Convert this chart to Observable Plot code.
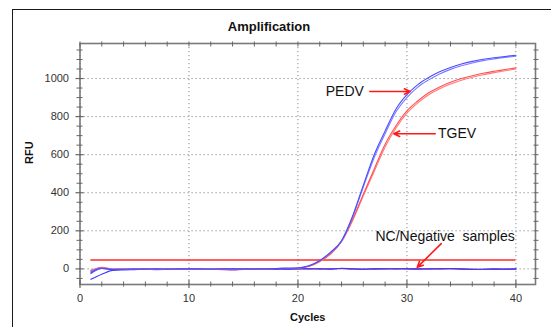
<!DOCTYPE html>
<html>
<head>
<meta charset="utf-8">
<script src="https://cdn.jsdelivr.net/npm/d3@7"></script>
<script src="https://cdn.jsdelivr.net/npm/@observablehq/plot@0.6"></script>
<style>
  html, body { margin: 0; padding: 0; width: 551px; height: 327px; overflow: hidden; background: #fff; }
  #border { position: absolute; left: 12px; top: 9px; width: 700px; height: 500px;
            border-left: 1.5px solid #1a1a1a; border-top: 1.5px solid #1a1a1a; }
  #chart { position: absolute; left: 0; top: 0; }
  svg { font-family: "Liberation Sans", Arial, sans-serif; overflow: visible; }
</style>
</head>
<body>
<div id="border"></div>
<div id="chart"></div>
<script>
const title = "Amplification";
const xLabel = "Cycles";
const yLabel = "RFU";

const cycles = [1,2,3,4,5,6,7,8,9,10,11,12,13,14,15,16,17,18,19,20,21,22,23,24,25,26,27,28,29,30,31,32,33,34,35,36,37,38,39,40];

// PEDV replicates (blue)
const pedvA = [-20,3,-3,-2,-1,-1,0,-1,0,0,0,-1,0,0,1,1,1,2,3,5,16,44,88,148,275,440,600,725,840,915,968,1005,1035,1058,1076,1090,1101,1109,1116,1122];
const pedvB = [-12,4,-2,-2,-1,0,0,-1,0,0,0,-1,0,0,1,1,1,2,3,5,15,42,86,146,270,430,585,710,825,900,955,993,1024,1048,1067,1082,1094,1103,1111,1117];
// TGEV replicates (red)
const tgevA = [-10,5,-2,-1,-1,0,0,-1,0,0,0,-1,0,0,1,1,1,2,3,5,14,40,80,145,258,392,525,655,752,830,882,925,955,980,1000,1015,1028,1038,1047,1056];
const tgevB = [-6,6,-1,-1,0,0,0,-1,0,0,0,-1,0,0,1,1,1,2,2,4,13,38,78,143,252,384,512,640,740,818,872,915,946,971,991,1007,1020,1031,1041,1050];
// NC / negative samples
const neg1 = [-55,-28,-8,-5,-4,-3,-4,-3,-2,-3,-2,-3,-2,-4,-2,-1,-2,-1,0,0,1,0,-1,3,0,-2,0,1,0,1,-1,0,1,2,0,-3,-2,0,-2,0];
const neg2 = [-25,2,-4,-3,-2,-2,-1,-2,-2,-1,-2,-3,-1,-2,-1,-2,-1,0,-1,1,0,1,0,2,1,-1,0,0,1,0,0,1,0,1,-1,-2,-2,-1,-1,-1];
const neg3 = [-15,8,-1,-3,-2,-1,-2,-2,-1,-2,-1,-2,-4,-5,-3,-2,-1,-1,0,0,0,-1,0,1,-2,-2,-1,0,0,0,0,-1,0,0,-1,-1,-3,-2,-1,0];

const threshold = 47;
const thresholdFrom = 1, thresholdTo = 40;

const xMajor = [0,10,20,30,40];
const xMinor = [2,4,6,8,12,14,16,18,22,24,26,28,32,34,36,38];
const yMajor = [0,200,400,600,800,1000];
const yMinor = [-50,50,100,150,250,300,350,450,500,550,650,700,750,850,900,950,1050,1100,1150];

const series = [
  {name: "neg3", values: neg3, color: "#ff6060"},
  {name: "neg2", values: neg2, color: "#6a3ae8"},
  {name: "neg1", values: neg1, color: "#3c3cff"},
  {name: "tgevB", values: tgevB, color: "#ff7a7a"},
  {name: "tgevA", values: tgevA, color: "#ff5050"},
  {name: "pedvB", values: pedvB, color: "#7a7aff"},
  {name: "pedvA", values: pedvA, color: "#4c4cff"}
];

// annotations: label text, position and arrow (cycle / RFU)
const labels = [
  {text: "PEDV", x: 24.3, y: 932},
  {text: "TGEV", x: 34.6, y: 710},
  {text: "NC/Negative  samples", x: 33.5, y: 171}
];
const arrows = [
  {x1: 26.6, y1: 932, x2: 30.3, y2: 932},
  {x1: 32.6, y1: 710, x2: 28.8, y2: 710},
  {x1: 33.15, y1: 133, x2: 30.95, y2: 8}
];

const rows = series.flatMap(s => s.values.map((v, i) => ({series: s.name, cycle: cycles[i], rfu: v, color: s.color})));

const tickColor = "#666";
const chart = Plot.plot({
  width: 551,
  height: 327,
  marginLeft: 79.5,
  marginRight: 16,
  marginTop: 43,
  marginBottom: 43,
  x: {domain: [0, 41.8], label: null},
  y: {domain: [-82, 1184], label: null},
  style: {fontFamily: "Liberation Sans, Arial, sans-serif", background: "transparent"},
  marks: [
    Plot.gridX(xMajor, {stroke: "#8a8a8a", strokeOpacity: 1, strokeDasharray: "1.2,2.8", strokeWidth: 1}),
    Plot.gridY(yMajor, {stroke: "#8a8a8a", strokeOpacity: 1, strokeDasharray: "1.2,2.8", strokeWidth: 1}),
    Plot.ruleY([threshold], {x1: thresholdFrom, x2: thresholdTo, stroke: "#ff2a2a", strokeWidth: 1.6}),
    Plot.line(rows, {x: "cycle", y: "rfu", z: "series", stroke: "color", strokeWidth: 1.1, curve: "monotone-x"}),
    Plot.frame({stroke: "#7a7a7a", strokeWidth: 1.6}),
    // left ticks (crossing)
    Plot.axisY(yMajor, {anchor: "left", tickSize: 8, dx: 4, fill: "none", stroke: tickColor, strokeWidth: 1.2}),
    Plot.axisY(yMinor, {anchor: "left", tickSize: 6, dx: 3, fill: "none", stroke: tickColor, strokeWidth: 1}),
    Plot.axisY(yMajor, {anchor: "left", tickSize: 0, tickPadding: 11, fontSize: 11, fill: "#333", tickFormat: d => String(d)}),
    // right ticks
    Plot.axisY(yMajor.concat(yMinor), {anchor: "right", tickSize: 5, dx: -2.5, fill: "none", stroke: tickColor, strokeWidth: 1}),
    // bottom ticks
    Plot.axisX(xMajor, {anchor: "bottom", tickSize: 8, dy: -4, fill: "none", stroke: tickColor, strokeWidth: 1.2}),
    Plot.axisX(xMinor, {anchor: "bottom", tickSize: 5, dy: -2.5, fill: "none", stroke: tickColor, strokeWidth: 1}),
    Plot.axisX(xMajor, {anchor: "bottom", tickSize: 0, tickPadding: 10, fontSize: 11, fill: "#333", tickFormat: d => String(d)}),
    // top ticks
    Plot.axisX(xMajor.concat(xMinor), {anchor: "top", tickSize: 5, dy: 2.5, fill: "none", stroke: tickColor, strokeWidth: 1}),
    // titles
    Plot.text([title], {frameAnchor: "top", dx: -38.75, dy: -17, text: d => d, fontSize: 13, fontWeight: "bold", fill: "#111", lineAnchor: "middle"}),
    Plot.text([yLabel], {frameAnchor: "left", dx: -51, text: d => d, rotate: -90, fontSize: 11, fontWeight: "bold", fill: "#111"}),
    Plot.text([xLabel], {frameAnchor: "bottom", dy: 33, text: d => d, fontSize: 11, fontWeight: "bold", fill: "#111", lineAnchor: "middle"}),
    // annotations
    Plot.arrow(arrows, {x1: "x1", y1: "y1", x2: "x2", y2: "y2", stroke: "#ff1a1a", strokeWidth: 1.6, headLength: 6, headAngle: 50}),
    Plot.text(labels, {x: "x", y: "y", text: "text", fontSize: 14, fill: "#111"})
  ]
});
document.getElementById("chart").appendChild(chart);
</script>
</body>
</html>
